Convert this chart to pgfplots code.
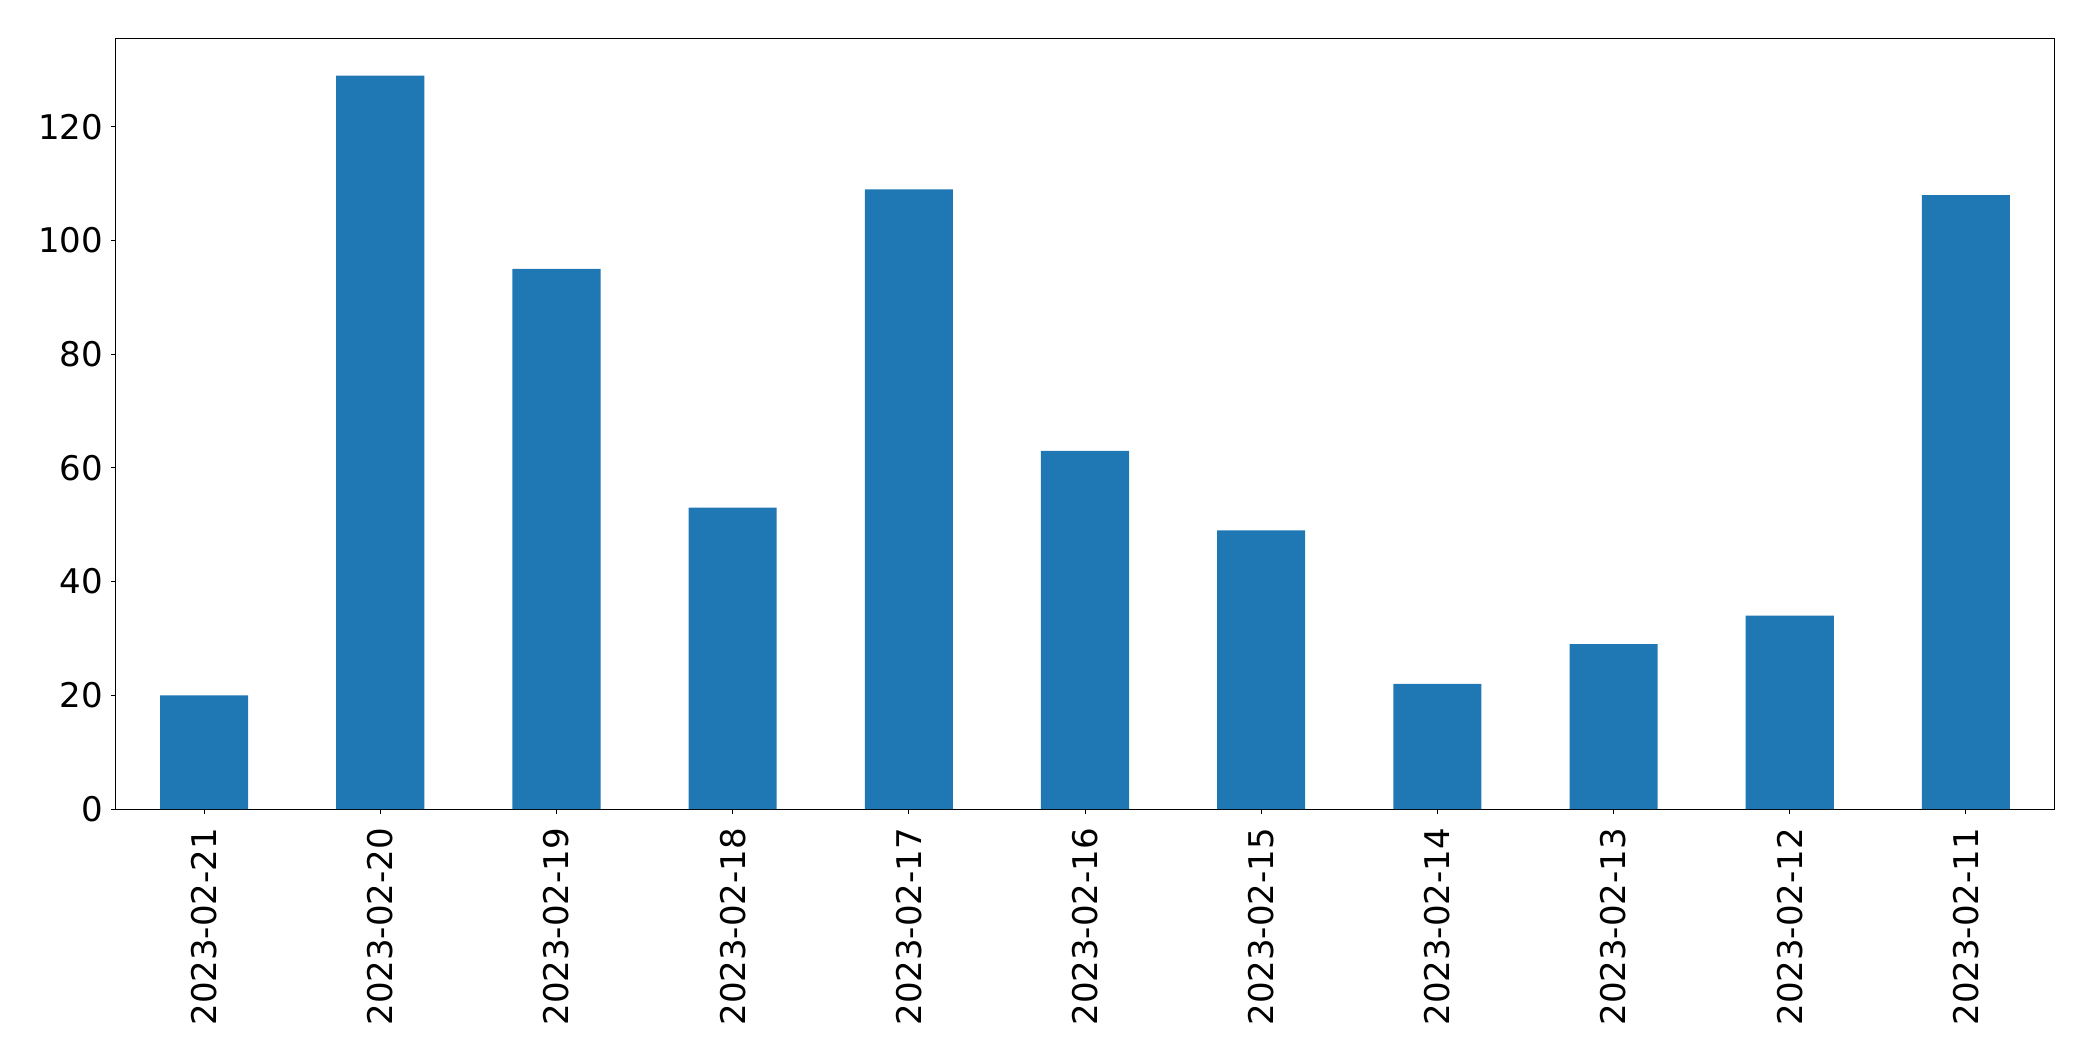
\documentclass[border=0pt]{standalone}
\usepackage{pgfplots}
\pgfplotsset{compat=1.18}
\usepackage{fontspec}
\setmainfont{DejaVu Sans}
\definecolor{barblue}{HTML}{1F77B4}
\begin{document}
\begin{tikzpicture}
\path (-58pt,-126pt) rectangle (988.5pt,404.5pt);
\begin{axis}[
  at={(0,0)}, anchor=south west,
  scale only axis,
  width=969pt, height=385pt,
  xmin=-0.5, xmax=10.5,
  ymin=0, ymax=135.45,
  xtick={0,1,2,3,4,5,6,7,8,9,10},
  xticklabels={2023-02-21,2023-02-20,2023-02-19,2023-02-18,2023-02-17,2023-02-16,2023-02-15,2023-02-14,2023-02-13,2023-02-12,2023-02-11},
  ytick={0,20,40,60,80,100,120},
  tick align=outside,
  xtick pos=left, ytick pos=left,
  major tick length=2.25pt,
  tick style={black, line width=0.5pt},
  axis line style={line width=0.5pt},
  /pgf/number format/assume math mode=true,
  tick label style={font=\fontsize{17}{20}\selectfont},
  xticklabel style={rotate=90, anchor=east, inner sep=0pt},
  yticklabel style={inner sep=0pt},
  xticklabel shift=7pt,
  yticklabel shift=4pt,
  ybar, bar width=0.5,
]
\addplot[fill=barblue, draw=none] coordinates {
(0,20) (1,129) (2,95) (3,53) (4,109) (5,63) (6,49) (7,22) (8,29) (9,34) (10,108)
};
\end{axis}
\end{tikzpicture}
\end{document}
